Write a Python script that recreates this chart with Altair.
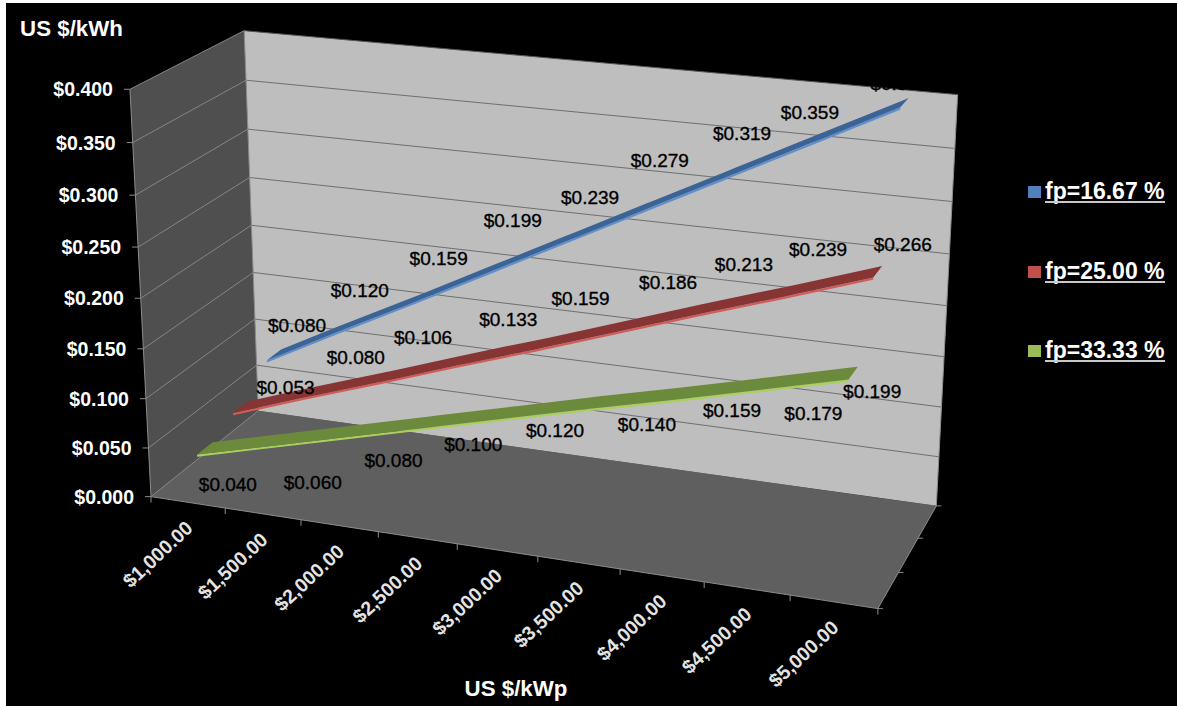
import altair as alt
import numpy as np
import pandas as pd

# Series values, US $/kWh at each system cost
costs = ["$1,000.00", "$1,500.00", "$2,000.00", "$2,500.00", "$3,000.00",
         "$3,500.00", "$4,000.00", "$4,500.00", "$5,000.00"]
fp_1667 = [0.080, 0.120, 0.159, 0.199, 0.239, 0.279, 0.319, 0.359, 0.399]
fp_2500 = [0.053, 0.080, 0.106, 0.133, 0.159, 0.186, 0.213, 0.239, 0.266]
fp_3333 = [0.040, 0.060, 0.080, 0.100, 0.120, 0.140, 0.159, 0.179, 0.199]
value_ticks = [0.000, 0.050, 0.100, 0.150, 0.200, 0.250, 0.300, 0.350, 0.400]
series_names = ["fp=16.67 %", "fp=25.00 %", "fp=33.33 %"]

WIDTH, HEIGHT = 1177, 706
VALUE_MAX = 0.4

# Pinhole camera for the 3D box: (cost, value, depth), each 0..1, to screen pixels
CAMERA = np.array([
    [-0.6898613224094743, 0.02943799146685945, -0.13615183848287887, -0.16078112680996118],
    [-0.06097790078707011, 0.43852938393458585, 0.056635948327848275, -0.5287738250133179],
    [9.576526180622019e-05, 5.4132557519969565e-05, -8.486825613406544e-05, -0.0010647613374344354],
])


def project(u, v, w):
    p = CAMERA @ np.array([u, v, w, 1.0])
    return float(p[0] / p[2]), float(p[1] / p[2])


def category_u(i):
    return (i + 0.5) / len(costs)


X = alt.X("x:Q", scale=alt.Scale(domain=[0, WIDTH], nice=False, zero=False), axis=None)
Y = alt.Y("y:Q", scale=alt.Scale(domain=[HEIGHT, 0], nice=False, zero=False), axis=None)


def polygon(points, color):
    """Fill an x-monotone polygon as an area between its upper and lower outline."""
    pts = list(points)
    rows = []
    for sx in sorted({round(p[0], 3) for p in pts}):
        hits = []
        for (x0, y0), (x1, y1) in zip(pts, pts[1:] + pts[:1]):
            lo, hi = min(x0, x1), max(x0, x1)
            if lo - 1e-3 <= sx <= hi + 1e-3:
                if abs(x1 - x0) < 1e-6:
                    hits += [y0, y1]
                else:
                    hits.append(y0 + (y1 - y0) * (sx - x0) / (x1 - x0))
        rows.append({"x": sx, "y": min(hits), "y2": max(hits)})
    return alt.Chart(pd.DataFrame(rows)).mark_area(
        color=color, orient="vertical", opacity=1, strokeWidth=0
    ).encode(X, Y, y2="y2:Q")


def segments(rows, color, width=1.0):
    frame = pd.DataFrame(
        [{"x": a[0], "y": a[1], "x2": b[0], "y2": b[1]} for a, b in rows]
    )
    return alt.Chart(frame).mark_rule(color=color, strokeWidth=width).encode(
        X, Y, x2="x2:Q", y2="y2:Q"
    )


def shifted(p, dx, dy):
    return (p[0] + dx, p[1] + dy)


def text_layer(rows, size, color, weight="normal", **mark):
    return alt.Chart(pd.DataFrame(rows)).mark_text(
        font="Liberation Sans", fontSize=size, color=color, fontWeight=weight,
        baseline="middle", **mark
    ).encode(X, Y, text="label:N")


layers = []

# Black panel
layers.append(
    alt.Chart(pd.DataFrame([{"x": 6, "x2": WIDTH, "y": 3, "y2": HEIGHT}]))
    .mark_rect(color="#000000")
    .encode(X, Y, x2="x2:Q", y2="y2:Q")
)

# Walls and floor
layers.append(polygon([project(0, 0, 0), project(0, 1, 0), project(0, 1, 1), project(0, 0, 1)], "#4f4f4f"))
layers.append(polygon([project(0, 0, 0), project(1, 0, 0), project(1, 0, 1), project(0, 0, 1)], "#5f5f5f"))
layers.append(polygon([project(0, 0, 1), project(0, 1, 1), project(1, 1, 1), project(1, 0, 1)], "#bebebe"))

# Gridlines on both walls
grid_v = [t / VALUE_MAX for t in value_ticks[1:]]
layers.append(segments([(project(0, v, 1), project(1, v, 1)) for v in grid_v[:-1]], "#6f6f6f"))
layers.append(segments([(project(0, 1, 1), project(1, 1, 1))], "#555555"))
layers.append(segments([(project(0, v, 0), project(0, v, 1)) for v in grid_v], "#858585"))

# Axis edges and tick marks
layers.append(segments([
    (project(0, 0, 0), project(1, 0, 0)),
    (project(0, 0, 0), project(0, 1, 0)),
    (project(1, 0, 0), project(1, 0, 1)),
    (project(0, 0, 0), project(0, 0, 1)),
    (project(0, 0, 1), project(0, 1, 1)),
    (project(1, 0, 1), project(1, 1, 1)),
], "#8c8c8c"))
tick_rows = [(project(0, t / VALUE_MAX, 0), shifted(project(0, t / VALUE_MAX, 0), -6, 0)) for t in value_ticks]
tick_rows += [(project(i / len(costs), 0, 0), shifted(project(i / len(costs), 0, 0), 0, 6)) for i in range(len(costs) + 1)]
tick_rows += [(project(1, 0, d / 3), shifted(project(1, 0, d / 3), 5, 0)) for d in range(4)]
layers.append(segments(tick_rows, "#8c8c8c"))

# Ribbons, back to front: (values, depth, top face, front edge)
ribbons = [
    (fp_1667, 5 / 6, "#3b6396", "#5f90cc"),
    (fp_2500, 3 / 6, "#873534", "#cf5d5a"),
    (fp_3333, 1 / 6, "#6c8a3c", "#a9cf5f"),
]
HALF_DEPTH = 0.07
EDGE_DROP = 0.0022
for values, depth, top, edge in ribbons:
    path = [(category_u(i), val / VALUE_MAX) for i, val in enumerate(values)]
    front = [project(u, v, depth - HALF_DEPTH) for u, v in path]
    below = [project(u, v - EDGE_DROP / VALUE_MAX, depth - HALF_DEPTH) for u, v in path]
    back = [project(u, v, depth + HALF_DEPTH) for u, v in path]
    layers.append(polygon(front + below[::-1], edge))
    layers.append(polygon(front + back[::-1], top))

# Data labels: placement relative to each point
label_nudges = [
    [(23, -29), (15, -35), (21, -39), (20, -47), (20, -39), (10, -44), (10, -38), (-7, -25), (-5, -19)],
    [(45, -19), (43, -33), (36, -38), (45, -40), (39, -45), (46, -43), (39, -43), (28, -41), (25, -27)],
    [(23, 37), (34, 43), (39, 30), (41, 23), (43, 19), (53, 22), (54, 17), (49, 30), (19, 19)],
]
label_rows = []
for (values, depth, _, _), nudges in zip(ribbons, label_nudges):
    for i, (val, (dx, dy)) in enumerate(zip(values, nudges)):
        x, y = project(category_u(i), val / VALUE_MAX, depth)
        label_rows.append({"x": x + dx, "y": y + dy, "label": f"${val:.3f}"})
layers.append(text_layer(label_rows, 19, "#000000", align="center", stroke="#000000", strokeWidth=0.35))

# Value axis labels
layers.append(text_layer(
    [{"x": project(0, t / VALUE_MAX, 0)[0] - 17, "y": project(0, t / VALUE_MAX, 0)[1] + 1, "label": f"${t:.3f}"}
     for t in value_ticks],
    19.5, "#ffffff", "bold", align="right",
))

# Cost axis labels, slanted
layers.append(text_layer(
    [{"x": project(category_u(i), 0, 0)[0] + 2, "y": project(category_u(i), 0, 0)[1] + 23, "label": c}
     for i, c in enumerate(costs)],
    19.5, "#e4e4e4", "bold", align="right", angle=317,
))

# Axis titles
layers.append(text_layer(
    [{"x": 71.5, "y": 29, "label": "US $/kWh"}, {"x": 516, "y": 689, "label": "US $/kWp"}],
    22.3, "#ffffff", "bold", align="center",
))

# Legend
legend_colors = ["#4f81bd", "#c0504d", "#9bbb59"]
legend_y = [192, 272, 351]
layers.append(
    alt.Chart(pd.DataFrame({
        "x": [1028] * 3, "x2": [1041] * 3,
        "y": [y - 6 for y in legend_y], "y2": [y + 6 for y in legend_y],
        "c": legend_colors,
    })).mark_rect().encode(X, Y, x2="x2:Q", y2="y2:Q", color=alt.Color("c:N", scale=None))
)
layers.append(text_layer(
    [{"x": 1045, "y": y, "label": n} for y, n in zip(legend_y, series_names)],
    23, "#ffffff", "bold", align="left",
))
layers.append(segments([((1045, y + 10), (1165, y + 10)) for y in legend_y], "#c8c8c8", 2))

chart = alt.layer(*layers).properties(
    width=WIDTH, height=HEIGHT, padding=0, background="#ffffff",
    autosize=alt.AutoSizeParams(type="none"),
).configure_view(stroke=None)

chart.save("out.html", embed_options={"renderer": "svg", "actions": False})
